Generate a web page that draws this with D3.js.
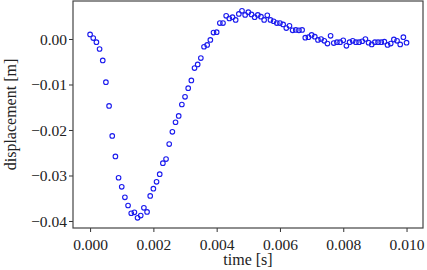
<!DOCTYPE html>
<html>
<head>
<meta charset="utf-8">
<script src="https://cdn.jsdelivr.net/npm/d3@7"></script>
<style>
  body { margin: 0; background: #fff; }
  svg { display: block; }
</style>
</head>
<body>
<script>
const width = 427;
const height = 270;
const margin = {top: 1, right: 4, bottom: 42, left: 73};
const serif = "'Liberation Serif', 'Times New Roman', serif";

// sample times: 0 .. 0.010 s, 0.0001 s apart
const timeStep = 0.0001;
const displacement = [
  0.0010, 0.0002, -0.0007, -0.0022, -0.0047, -0.0095, -0.0147, -0.0213, -0.0258, -0.0305,
  -0.0325, -0.0348, -0.0366, -0.0383, -0.0381, -0.0393, -0.0388, -0.0371, -0.0380, -0.0345,
  -0.0329, -0.0314, -0.0297, -0.0273, -0.0264, -0.0231, -0.0204, -0.0183, -0.0169, -0.0144,
  -0.0127, -0.0108, -0.0091, -0.0064, -0.0056, -0.0042, -0.0017, -0.0013, -0.0002, 0.0014,
  0.0015, 0.0035, 0.0035, 0.0051, 0.0045, 0.0048, 0.0042, 0.0055, 0.0062, 0.0053,
  0.0059, 0.0054, 0.0048, 0.0053, 0.0049, 0.0042, 0.0052, 0.0042, 0.0039, 0.0035,
  0.0035, 0.0032, 0.0024, 0.0029, 0.0019, 0.0020, 0.0019, 0.0020, 0.0003, 0.0004,
  0.0009, 0.0005, -0.0002, 0.0000, -0.0004, -0.0010, 0.0007, -0.0009, -0.0007, -0.0007,
  -0.0003, -0.0015, -0.0007, -0.0004, -0.0007, -0.0007, -0.0005, 0.0000, -0.0008, -0.0012,
  -0.0007, -0.0007, -0.0007, -0.0006, -0.0013, -0.0010, -0.0001, -0.0004, -0.0012, 0.0004,
  -0.0008
];
const xTicks = [0, 0.002, 0.004, 0.006, 0.008, 0.010];
const yTicks = [0, -0.01, -0.02, -0.03, -0.04];

const data = displacement.map((v, i) => ({t: i * timeStep, v}));

const x = d3.scaleLinear()
  .domain([-0.00054, 0.01052])
  .range([margin.left, width - margin.right]);

const y = d3.scaleLinear()
  .domain([-0.04154, 0.00835])
  .range([height - margin.bottom, margin.top]);

const svg = d3.select("body").append("svg")
  .attr("width", width)
  .attr("height", height)
  .style("font-family", serif);

// points
svg.append("g")
  .selectAll("circle")
  .data(data)
  .join("circle")
  .attr("cx", d => x(d.t))
  .attr("cy", d => y(d.v))
  .attr("r", 2.3)
  .attr("fill", "none")
  .attr("stroke", "#1a1aee")
  .attr("stroke-width", 1.1);

// axes
const xAxis = g => g
  .attr("transform", `translate(0,${height - margin.bottom})`)
  .call(d3.axisBottom(x).tickValues(xTicks).tickFormat(d3.format(".3f")).tickSize(4).tickSizeOuter(0))
  .attr("font-family", serif)
  .attr("font-size", 15.5)
  .call(g => g.select(".domain").remove())
  .call(g => g.selectAll(".tick line").attr("stroke", "#333"))
  .call(g => g.selectAll(".tick text").attr("dy", "0.95em").attr("fill", "#222"));

const yAxis = g => g
  .attr("transform", `translate(${margin.left},0)`)
  .call(d3.axisLeft(y).tickValues(yTicks).tickFormat(d3.format(".2f")).tickSize(4).tickSizeOuter(0))
  .attr("font-family", serif)
  .attr("font-size", 15.5)
  .call(g => g.select(".domain").remove())
  .call(g => g.selectAll(".tick line").attr("stroke", "#333"))
  .call(g => g.selectAll(".tick text").attr("x", -6).attr("dy", "0.34em").attr("fill", "#222"));

svg.append("g").call(xAxis);
svg.append("g").call(yAxis);

// frame
svg.append("rect")
  .attr("x", margin.left)
  .attr("y", margin.top)
  .attr("width", width - margin.left - margin.right)
  .attr("height", height - margin.top - margin.bottom)
  .attr("fill", "none")
  .attr("stroke", "#444")
  .attr("stroke-width", 1.2);

// labels
svg.append("text")
  .attr("x", (margin.left + width - margin.right) / 2)
  .attr("y", height - 5)
  .attr("text-anchor", "middle")
  .attr("font-size", 16)
  .attr("fill", "#222")
  .text("time [s]");

svg.append("text")
  .attr("transform", `translate(16,${(margin.top + height - margin.bottom) / 2}) rotate(-90)`)
  .attr("text-anchor", "middle")
  .attr("font-size", 16)
  .attr("fill", "#222")
  .text("displacement [m]");
</script>
</body>
</html>
